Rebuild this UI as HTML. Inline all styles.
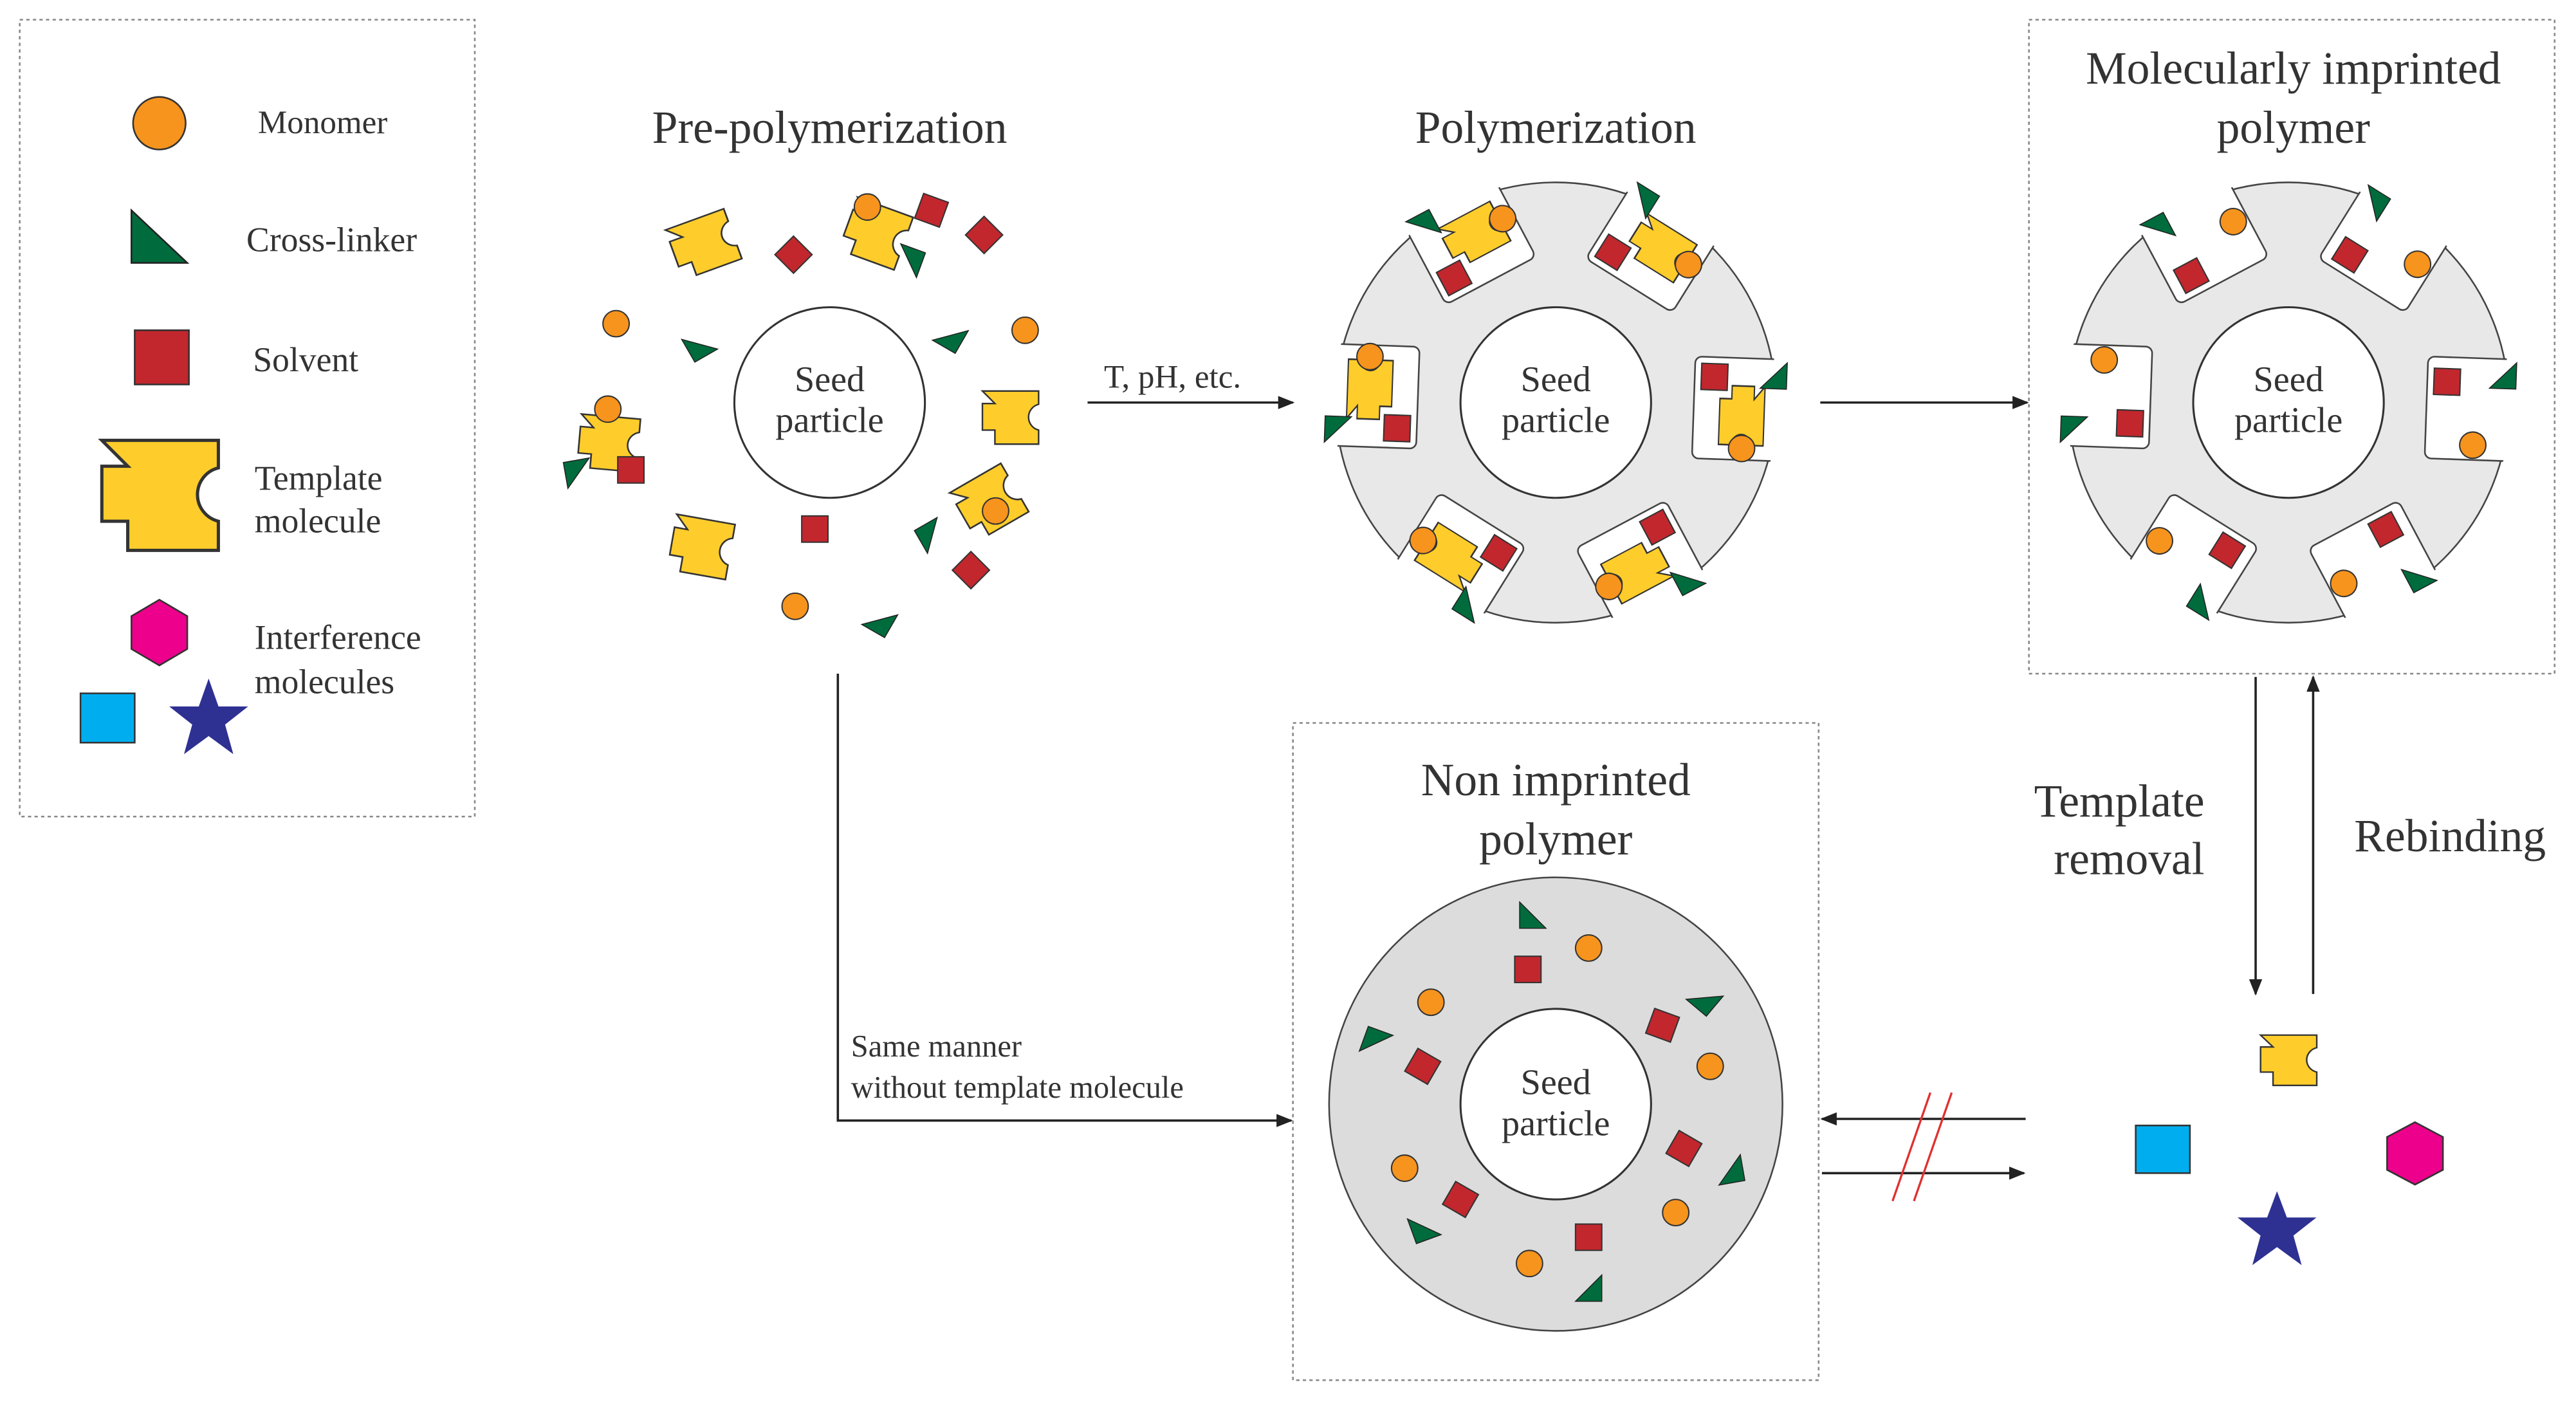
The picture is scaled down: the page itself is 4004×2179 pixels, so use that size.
<!DOCTYPE html>
<html><head><meta charset="utf-8"><style>html,body{margin:0;padding:0;background:#fff}svg{display:block}svg text{font-family:"Liberation Serif","Times New Roman","DejaVu Serif",serif}</style></head><body>
<svg width="4004" height="2179" viewBox="0 0 1568 853.3" preserveAspectRatio="none" xmlns="http://www.w3.org/2000/svg" fill="#333">
<defs>
<path id="tp" d="M0,0 H36 V8.5 A8.5 8.5 0 0 0 36,25 V34 H8 V25 H0 V8 H8 Z" fill="#ffcd2b" stroke="#333" stroke-width="1"/>
<rect id="sq" x="-8" y="-8" width="16" height="16" fill="#c1272d" stroke="#333" stroke-width="0.8"/>
<circle id="ci" r="8" fill="#f7941d" stroke="#333" stroke-width="0.8"/>
<path id="tr" d="M-7,-8 L-7,8 L9,8 Z" fill="#006b3c" stroke="#222" stroke-width="0.6"/>
<marker id="ar" markerWidth="10" markerHeight="8" refX="9" refY="4" orient="auto" markerUnits="userSpaceOnUse"><path d="M0,0 L10,4 L0,8 Z" fill="#222"/></marker>
<clipPath id="cg"><circle r="135.5"/></clipPath>
<g id="slot"><rect x="84" y="-31" width="60" height="62" rx="4" fill="#fff" stroke="#444" stroke-width="1" clip-path="url(#cg)"/></g>
<g id="pslot">
<use href="#slot"/>
<use href="#tp" transform="translate(127,-14) rotate(90) scale(1,0.8)"/>
<use href="#sq" transform="translate(96,-19)"/>
<use href="#tr" transform="translate(132,-20) rotate(-90)"/>
<use href="#ci" transform="translate(114,24)"/>
</g>
<g id="mslot">
<use href="#slot"/>
<use href="#sq" transform="translate(96,-16)"/>
<use href="#tr" transform="translate(130,-20) rotate(-90)"/>
<use href="#ci" transform="translate(113,22)"/>
</g>
</defs>

<rect x="12" y="12" width="277" height="485" fill="none" stroke="#888" stroke-width="1" stroke-dasharray="2,2"/>
<circle cx="97" cy="75" r="16" fill="#f7941d" stroke="#333"/>
<text x="157" y="81" font-size="20">Monomer</text>
<path d="M80,128 L80,160 L114,160 Z" fill="#006b3c" stroke="#222"/>
<text x="150" y="153" font-size="21">Cross-linker</text>
<rect x="82" y="201" width="33" height="33" fill="#c1272d" stroke="#333"/>
<text x="154" y="226" font-size="21">Solvent</text>
<g transform="translate(62,268) scale(1.97)"><use href="#tp"/></g>
<text x="155" y="298" font-size="21">Template</text>
<text x="155" y="324" font-size="21">molecule</text>
<polygon points="97,365 114,375 114,395 97,405 80,395 80,375" fill="#ec008c" stroke="#333"/>
<text x="155" y="395" font-size="21">Interference</text>
<text x="155" y="422" font-size="21">molecules</text>
<rect x="49" y="422" width="33" height="30" fill="#00aeef" stroke="#333"/>
<polygon points="127,413 133,430 151,430 137,441 142,459 127,448 112,459 117,441 103,430 121,430" fill="#2e3192"/>

<text x="505" y="87" font-size="28" text-anchor="middle">Pre-polymerization</text>
<circle cx="505" cy="245" r="58" fill="#fff" stroke="#333" stroke-width="1.2"/>
<text x="505" y="238" font-size="22" text-anchor="middle">Seed</text>
<text x="505" y="263" font-size="22" text-anchor="middle">particle</text>
<use href="#tp" transform="translate(405,140) rotate(-20) scale(1.05,0.95)"/>
<use href="#sq" transform="translate(483,155) rotate(45)"/>
<use href="#tp" transform="translate(522,120) rotate(20)"/>
<use href="#ci" transform="translate(528,126)"/>
<use href="#sq" transform="translate(567,128) rotate(20)"/>
<use href="#tr" transform="translate(554,159) rotate(200)"/>
<use href="#sq" transform="translate(599,143) rotate(45)"/>
<use href="#ci" transform="translate(375,197)"/>
<use href="#tr" transform="translate(425,210) rotate(-30)"/>
<use href="#tr" transform="translate(578,205) rotate(-60)"/>
<use href="#ci" transform="translate(624,201)"/>
<use href="#tp" transform="translate(598,238) scale(0.95)"/>
<use href="#tp" transform="translate(354,252) rotate(5) scale(1,0.95)"/>
<use href="#ci" transform="translate(370,249)"/>
<use href="#tr" transform="translate(352,287) rotate(80)"/>
<use href="#sq" transform="translate(384,286)"/>
<use href="#tp" transform="translate(412,313) rotate(10)"/>
<use href="#sq" transform="translate(496,322)"/>
<use href="#tp" transform="translate(578,300) rotate(-30)"/>
<use href="#ci" transform="translate(606,311)"/>
<use href="#tr" transform="translate(567,325) rotate(60)"/>
<use href="#sq" transform="translate(591,347) rotate(45)"/>
<use href="#ci" transform="translate(484,369)"/>
<use href="#tr" transform="translate(535,378) rotate(-60)"/>

<line x1="662" y1="245" x2="787" y2="245" stroke="#222" stroke-width="1.4" marker-end="url(#ar)"/>
<text x="672" y="236" font-size="20">T, pH, etc.</text>

<text x="947" y="87" font-size="28" text-anchor="middle">Polymerization</text>
<g transform="translate(947,245)">
<circle r="134" fill="#e8e8e8" stroke="#444" stroke-width="1"/>
<use href="#pslot" transform="rotate(2)"/>
<use href="#pslot" transform="rotate(62)"/>
<use href="#pslot" transform="rotate(122)"/>
<use href="#pslot" transform="rotate(182)"/>
<use href="#pslot" transform="rotate(242)"/>
<use href="#pslot" transform="rotate(302)"/>
<circle r="58" fill="#fff" stroke="#333" stroke-width="1.2"/>
<text y="-7" font-size="22" text-anchor="middle">Seed</text>
<text y="18" font-size="22" text-anchor="middle">particle</text>
</g>

<line x1="1108" y1="245" x2="1234" y2="245" stroke="#222" stroke-width="1.4" marker-end="url(#ar)"/>

<rect x="1235" y="12" width="320" height="398" fill="none" stroke="#888" stroke-width="1" stroke-dasharray="2,2"/>
<text x="1396" y="51" font-size="28" text-anchor="middle">Molecularly imprinted</text>
<text x="1396" y="87" font-size="28" text-anchor="middle">polymer</text>
<g transform="translate(1393,245)">
<circle r="134" fill="#e8e8e8" stroke="#444" stroke-width="1"/>
<use href="#mslot" transform="rotate(2)"/>
<use href="#mslot" transform="rotate(62)"/>
<use href="#mslot" transform="rotate(122)"/>
<use href="#mslot" transform="rotate(182)"/>
<use href="#mslot" transform="rotate(242)"/>
<use href="#mslot" transform="rotate(302)"/>
<circle r="58" fill="#fff" stroke="#333" stroke-width="1.2"/>
<text y="-7" font-size="22" text-anchor="middle">Seed</text>
<text y="18" font-size="22" text-anchor="middle">particle</text>
</g>

<line x1="1373" y1="412" x2="1373" y2="605" stroke="#222" stroke-width="1.4" marker-end="url(#ar)"/>
<line x1="1408" y1="605" x2="1408" y2="412" stroke="#222" stroke-width="1.4" marker-end="url(#ar)"/>
<text x="1290" y="497" font-size="28" text-anchor="middle">Template</text>
<text x="1296" y="532" font-size="28" text-anchor="middle">removal</text>
<text x="1433" y="518" font-size="28">Rebinding</text>

<use href="#tp" transform="translate(1376,630) scale(0.95,0.9)"/>
<rect x="1300" y="685" width="33" height="29" fill="#00aeef" stroke="#333"/>
<polygon points="1470,683 1487,692 1487,712 1470,721 1453,712 1453,692" fill="#ec008c" stroke="#333"/>
<polygon points="1386,725 1392,741 1410,741 1396,752 1401,770 1386,759 1371,770 1376,752 1362,741 1380,741" fill="#2e3192"/>

<line x1="1233" y1="681" x2="1109" y2="681" stroke="#222" stroke-width="1.4" marker-end="url(#ar)"/>
<line x1="1109" y1="714" x2="1232" y2="714" stroke="#222" stroke-width="1.4" marker-end="url(#ar)"/>
<line x1="1152" y1="731" x2="1175" y2="665" stroke="#e03030" stroke-width="1.3"/>
<line x1="1165" y1="731" x2="1188" y2="665" stroke="#e03030" stroke-width="1.3"/>

<polyline points="510,410 510,682 786,682" fill="none" stroke="#222" stroke-width="1.4" marker-end="url(#ar)"/>
<text x="518" y="643" font-size="19">Same manner</text>
<text x="518" y="668" font-size="19">without template molecule</text>

<rect x="787" y="440" width="320" height="400" fill="none" stroke="#888" stroke-width="1" stroke-dasharray="2,2"/>
<text x="947" y="484" font-size="28" text-anchor="middle">Non imprinted</text>
<text x="947" y="520" font-size="28" text-anchor="middle">polymer</text>
<circle cx="947" cy="672" r="138" fill="#dcdcdc" stroke="#444" stroke-width="1"/>
<circle cx="947" cy="672" r="58" fill="#fff" stroke="#333" stroke-width="1.2"/>
<text x="947" y="666" font-size="22" text-anchor="middle">Seed</text>
<text x="947" y="691" font-size="22" text-anchor="middle">particle</text>
<use href="#tr" transform="translate(932,557) rotate(0)"/>
<use href="#tr" transform="translate(1037,608) rotate(-50)"/>
<use href="#tr" transform="translate(838,634) rotate(110)"/>
<use href="#tr" transform="translate(1053,713) rotate(-100)"/>
<use href="#tr" transform="translate(866,747) rotate(-20)"/>
<use href="#tr" transform="translate(967,785) rotate(-90)"/>
<use href="#sq" transform="translate(930,590)"/>
<use href="#sq" transform="translate(1012,624) rotate(20)"/>
<use href="#sq" transform="translate(866,649) rotate(30)"/>
<use href="#sq" transform="translate(1025,699) rotate(30)"/>
<use href="#sq" transform="translate(889,730) rotate(30)"/>
<use href="#sq" transform="translate(967,753)"/>
<use href="#ci" transform="translate(967,577)"/>
<use href="#ci" transform="translate(871,610)"/>
<use href="#ci" transform="translate(1041,649)"/>
<use href="#ci" transform="translate(855,711)"/>
<use href="#ci" transform="translate(1020,738)"/>
<use href="#ci" transform="translate(931,769)"/>
</svg>
</body></html>
